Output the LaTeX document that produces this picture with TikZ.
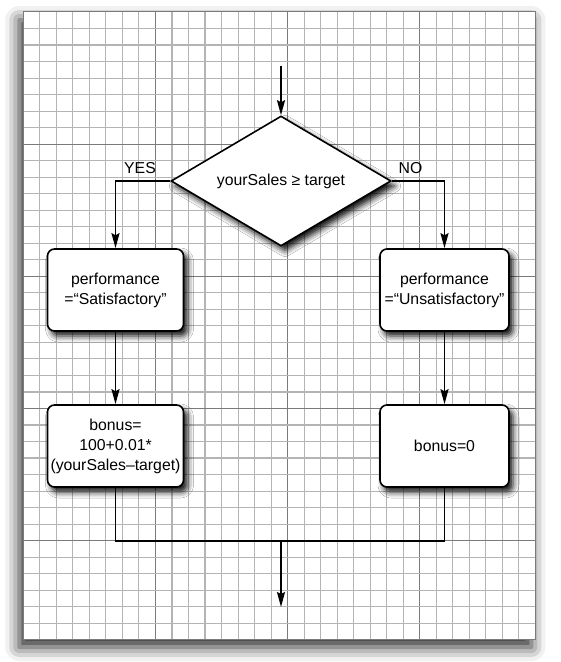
\documentclass[tikz,border=0pt]{standalone}
\usepackage{fontspec}
\setmainfont{Liberation Sans}
\usetikzlibrary{arrows.meta,shapes.geometric,shadows.blur}
\definecolor{minorgrid}{HTML}{B4B4B4}
\definecolor{majorgrid}{HTML}{7A7A7A}
\tikzset{
  paper/.style={fill=white,draw=majorgrid,line width=1bp,
    blur shadow={shadow xshift=-4bp,shadow yshift=-8bp,shadow blur radius=14bp,shadow opacity=85}},
  minorline/.style={draw=minorgrid,line width=1.1bp},
  majorline/.style={draw=majorgrid,line width=1.1bp},
  flowbox/.style={draw=black,fill=white,line width=1.6bp,rounded corners=7bp,
    inner sep=0pt,align=center,font=\fontsize{15.8bp}{20bp}\selectfont,
    blur shadow={shadow xshift=4bp,shadow yshift=-5bp,shadow blur radius=6bp,shadow opacity=95}},
  decision/.style={draw=black,fill=white,line width=1.6bp,shape=diamond,shape aspect=2,inner sep=0pt,
    font=\fontsize{15.8bp}{20bp}\selectfont,
    blur shadow={shadow xshift=4bp,shadow yshift=-5bp,shadow blur radius=6bp,shadow opacity=95}},
  conn/.style={draw=black,line width=1.6bp},
  arrowconn/.style={conn,-{Stealth[length=15bp,width=8bp,inset=2bp]}},
  lbl/.style={font=\fontsize{15.8bp}{20bp}\selectfont,inner sep=0pt}
}
\begin{document}
\begin{tikzpicture}[x=1bp,y=-1bp]
\useasboundingbox (0,0) rectangle (561,662);
% paper
\path[paper] (23.3,12) rectangle (535.4,639);
\foreach \i in {1,...,30}{
  \pgfmathtruncatemacro{\m}{mod(\i,8)}
  \ifnum\m=0
    \path[majorline] ({23.3+\i*16.52},12) -- ({23.3+\i*16.52},639);
  \else
    \path[minorline] ({23.3+\i*16.52},12) -- ({23.3+\i*16.52},639);
  \fi
}
\foreach \j in {1,...,37}{
  \pgfmathtruncatemacro{\m}{mod(\j,8)}
  \ifnum\m=0
    \path[majorline] (23.3,{12+\j*16.52}) -- (535.4,{12+\j*16.52});
  \else
    \path[minorline] (23.3,{12+\j*16.52}) -- (535.4,{12+\j*16.52});
  \fi
}
\draw[majorgrid,line width=1bp] (23.3,12) rectangle (535.4,639);
% flowchart
\coordinate (start) at (281,66);
\node[decision,minimum width=220bp,minimum height=130bp] (dec) at (281,181) {yourSales ≥ target};
\node[flowbox,minimum width=136bp,minimum height=82bp] (sat) at (115.5,290) {performance\\=“Satisfactory”};
\node[flowbox,minimum width=129bp,minimum height=82bp] (unsat) at (444.5,290) {performance\\=“Unsatisfactory”};
\node[flowbox,minimum width=136bp,minimum height=82bp] (bonusa) at (115.5,446) {bonus=\\100+0.01*\\(yourSales–target)};
\node[flowbox,minimum width=129bp,minimum height=82bp] (bonusb) at (444.5,446) {bonus=0};
\node[lbl] (yes) at (140,168) {YES};
\node[lbl] (no) at (410.5,168) {NO};
\coordinate (join) at (281,541);
\coordinate (finish) at (281,607);
\draw[arrowconn] (start) -- (dec.north);
\draw[arrowconn] (dec.west) -| (sat.north);
\draw[arrowconn] (dec.east) -| (unsat.north);
\draw[arrowconn] (sat.south) -- (bonusa.north);
\draw[arrowconn] (unsat.south) -- (bonusb.north);
\draw[conn] (bonusa.south) |- (join) -| (bonusb.south);
\draw[arrowconn] (join) -- (finish);
\end{tikzpicture}
\end{document}
